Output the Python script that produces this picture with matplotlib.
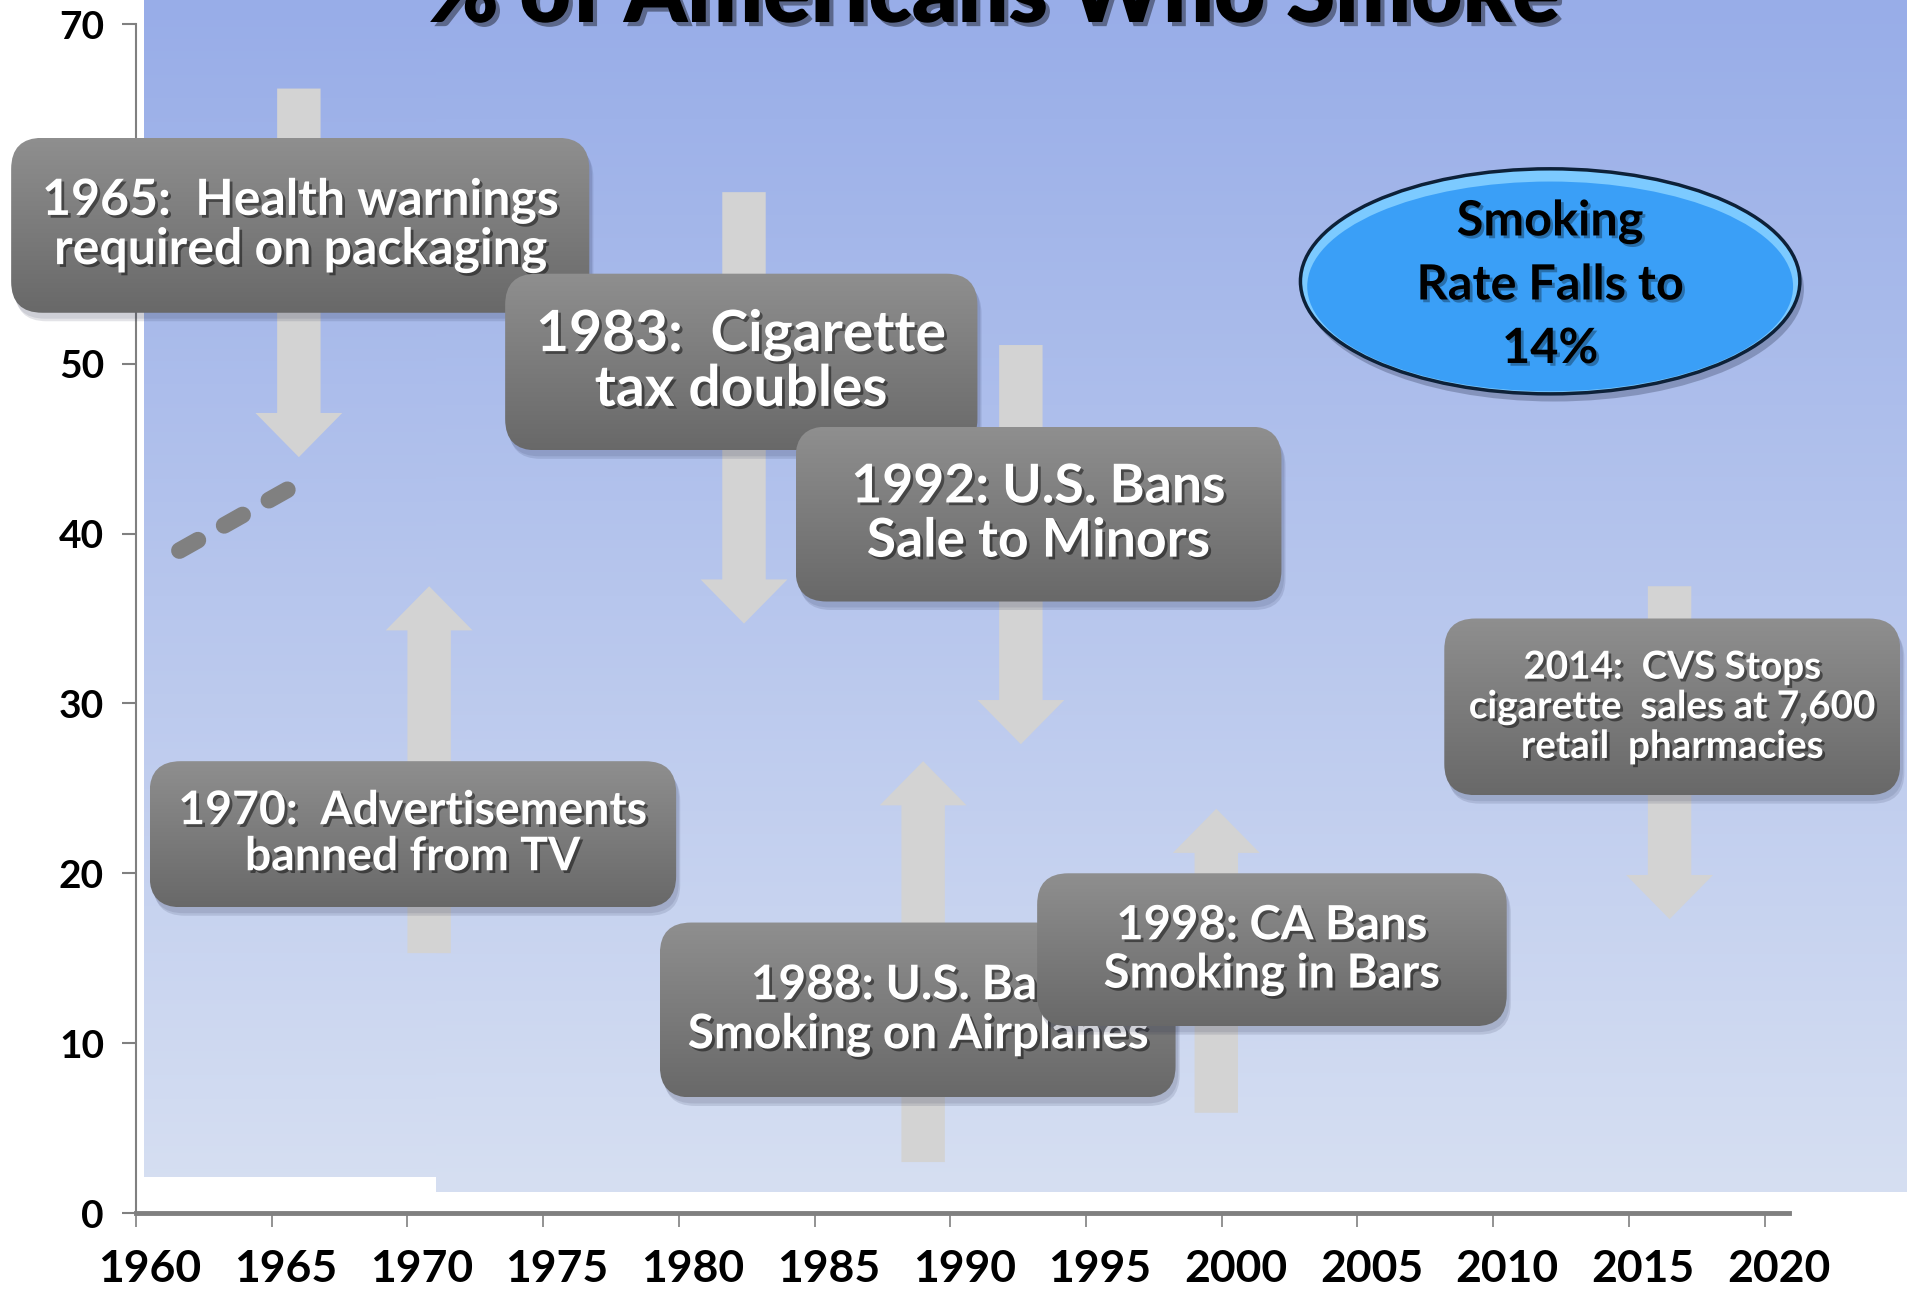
import numpy as np
import matplotlib
matplotlib.use('Agg')
import matplotlib.pyplot as plt
import matplotlib.patheffects as pe
from matplotlib.patches import FancyBboxPatch, FancyArrow, Ellipse
from matplotlib.transforms import ScaledTranslation

plt.rcParams['font.family'] = ['Lato', 'DejaVu Sans']
plt.rcParams['font.weight'] = 'bold'

# dashed series (smoking rate, early 1960s)
line_years = [1961.6, 1965.6]
line_rate = [39.0, 42.6]

# event arrows: year, start value, end value
arrow_years = [1966.0, 1970.8, 1982.4, 1989.0, 1992.6, 1999.8, 2016.5]
arrow_from = [66.2, 15.3, 60.1, 3.0, 51.1, 5.9, 36.9]
arrow_to = [44.5, 36.9, 34.7, 26.6, 27.6, 23.8, 17.3]

# event boxes
box_labels = ['1965:  Health warnings\nrequired on packaging',
              '1983:  Cigarette\ntax doubles',
              '1992: U.S. Bans\nSale to Minors',
              '1970:  Advertisements\nbanned from TV',
              '1988: U.S. Bans\nSmoking on Airplanes',
              '1998: CA Bans\nSmoking in Bars',
              '2014:  CVS Stops\ncigarette  sales at 7,600\nretail  pharmacies']
box_left = [1955.4, 1973.6, 1984.3, 1960.5, 1979.3, 1993.2, 2008.2]
box_right = [1976.7, 1991.0, 2002.2, 1979.9, 1998.3, 2010.5, 2025.0]
box_top = [63.3, 55.3, 46.3, 26.6, 17.1, 20.0, 35.0]
box_bottom = [53.0, 44.9, 36.0, 18.0, 6.8, 11.0, 24.6]
box_fontsize = [36, 41, 38.5, 33.4, 34.4, 34, 27.8]
box_linespacing = [1.1, 1.03, 1.13, 1.12, 1.14, 1.12, 1.16]

ellipse_label = 'Smoking\nRate Falls to\n14%'
ellipse_center = (2012.1, 54.85)
ellipse_size = (18.4, 13.25)

x_ticks = list(range(1960, 2021, 5))
y_ticks = list(range(0, 71, 10))

W, H = 1908, 1290
fig = plt.figure(figsize=(W / 100, H / 100), dpi=100)

# background gradient (pixel coordinates)
bg = fig.add_axes([0, 0, 1, 1], zorder=-2)
bg.set_xlim(0, W)
bg.set_ylim(H, 0)
bg.axis('off')
top_c = np.array([152, 173, 232]) / 255
bot_c = np.array([214, 223, 242]) / 255


def grad(y0, y1):
    t = np.linspace(y0, y1, 300) / 1195
    return (top_c[None, :] * (1 - t[:, None]) + bot_c[None, :] * t[:, None])[:, None, :]


bg.imshow(grad(0, 1177), extent=[144, 436, 1177, 0], aspect='auto')
bg.imshow(grad(0, 1192), extent=[436, W, 1192, 0], aspect='auto')

# main axes
left, right, bottom, top = 136, 1789, 1213, 24
ax = fig.add_axes([left / W, 1 - bottom / H, (right - left) / W, (bottom - top) / H])
ax.set_facecolor('none')
ax.set_xlim(1960, 2020.9)
ax.set_ylim(0, 70)
ax.set_xticks(x_ticks)
ax.set_yticks(y_ticks)
for s in ['top', 'right']:
    ax.spines[s].set_visible(False)
ax.spines['left'].set_color('#808080')
ax.spines['left'].set_linewidth(1.5)
ax.spines['bottom'].set_color('#808080')
ax.spines['bottom'].set_linewidth(3.5)
ax.tick_params(axis='y', direction='out', length=10, width=1.5, color='#808080',
               pad=13, labelsize=28)
ax.tick_params(axis='x', direction='out', length=10, width=1.2, color='#808080',
               pad=16, labelsize=32)
for lbl in ax.get_xticklabels():
    lbl.set_transform(lbl.get_transform() + ScaledTranslation(0.14, 0, fig.dpi_scale_trans))

ax.plot(line_years, line_rate, color='#808080', lw=12, dashes=(1.27, 1.81),
        dash_capstyle='round', solid_capstyle='round')

# overlay axes sharing the data scale but covering the whole figure
ppx = (right - left) / (2020.9 - 1960)
ppy = (bottom - top) / 70
ov = fig.add_axes([0, 0, 1, 1], zorder=1)
ov.set_facecolor('none')
ov.axis('off')
ov.set_autoscale_on(False)
ov.set_xlim(1960 - left / ppx, 2020.9 + (W - right) / ppx)
ov.set_ylim(0 - (H - bottom) / ppy, 70 + top / ppy)
asp = ppx / ppy

# arrows
for x, y0, y1 in zip(arrow_years, arrow_from, arrow_to):
    ov.add_patch(FancyArrow(x, y0, 0, y1 - y0, width=1.6, head_width=3.2,
                            head_length=2.6, length_includes_head=True,
                            color='#d3d3d3', lw=0, zorder=2))

# boxes
gray = np.linspace(0.56, 0.41, 200)
gray_img = np.repeat(gray[:, None, None], 3, axis=2)
text_fx = [pe.withSimplePatchShadow(offset=(2, -2), shadow_rgbFace='black', alpha=0.45)]
for i, (lab, x0, x1, y1, y0, fs, ls) in enumerate(zip(box_labels, box_left, box_right,
                                                      box_top, box_bottom, box_fontsize,
                                                      box_linespacing)):
    z = 3 + i * 0.1
    for k, a in enumerate([0.10, 0.12]):
        sh = FancyBboxPatch((x0 + 0.1 + 0.05 * k, y0 - 0.35 - 0.15 * k), x1 - x0, y1 - y0,
                            boxstyle='round,pad=0,rounding_size=1.15', mutation_aspect=asp,
                            fc='#1a2040', ec='none', alpha=a, zorder=z)
        ov.add_patch(sh)
    box = FancyBboxPatch((x0, y0), x1 - x0, y1 - y0,
                         boxstyle='round,pad=0,rounding_size=1.15', mutation_aspect=asp,
                         fc='none', ec='none', zorder=z)
    ov.add_patch(box)
    im = ov.imshow(gray_img, extent=[x0, x1, y0, y1], aspect='auto', zorder=z,
                   interpolation='bilinear')
    im.set_clip_path(box)
    ov.text((x0 + x1) / 2, (y0 + y1) / 2, lab, ha='center', va='center', fontsize=fs,
            color='white', fontweight='bold', linespacing=ls, zorder=z + 0.05,
            path_effects=text_fx)

# ellipse
cx, cy = ellipse_center
ew, eh = ellipse_size
ov.add_patch(Ellipse((cx + 0.15, cy - 0.45), ew, eh,
                     fc='#101830', ec='none', alpha=0.25, zorder=4))
ov.add_patch(Ellipse((cx, cy), ew, eh, fc='#7ccaff', ec='none', zorder=4.1))
ov.add_patch(Ellipse((cx, cy - 0.3), ew - 0.5, eh - 0.9,
                     fc='#3a9ff7', ec='none', zorder=4.2))
ov.add_patch(Ellipse((cx, cy), ew, eh, fc='none', ec='#0d2138', lw=2.5, zorder=4.25))
ov.text(cx, cy - 0.2, ellipse_label, ha='center', va='center', fontsize=35, color='black',
        fontweight='bold', linespacing=1.5, zorder=4.3,
        path_effects=[pe.withSimplePatchShadow(offset=(2, -2), shadow_rgbFace='black',
                                               alpha=0.3)])

# title (cut off at the top as in the original)
fig.text(0.52, 1 - 22 / H, '% of Americans Who Smoke', ha='center', va='baseline',
         fontsize=64, fontweight='heavy', color='black',
         path_effects=[pe.withSimplePatchShadow(offset=(3, -3), shadow_rgbFace='black',
                                                alpha=0.4)])

fig.savefig('out.png', dpi=100)
